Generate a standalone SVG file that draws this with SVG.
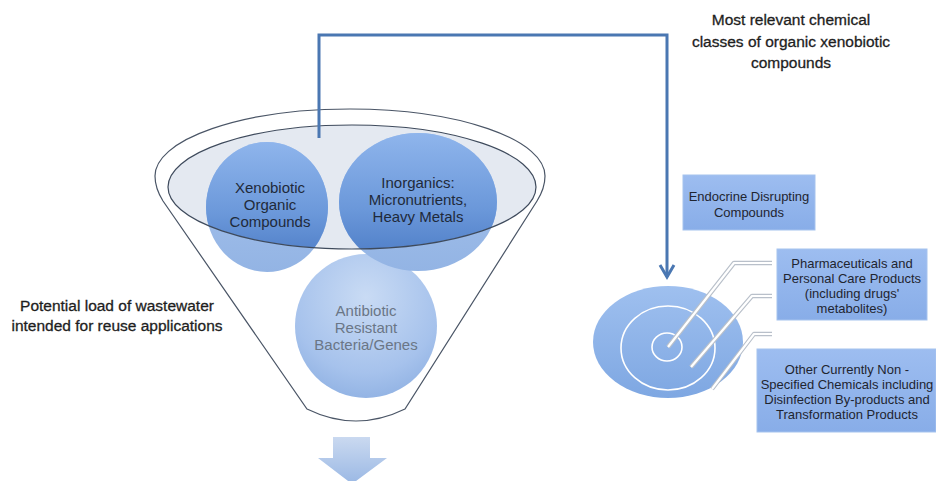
<svg xmlns="http://www.w3.org/2000/svg" width="936" height="481" viewBox="0 0 936 481">
<defs>
<style>
.t{font-family:"Liberation Sans",Arial,sans-serif;text-anchor:middle;}
.big{font-size:15.5px;fill:#1e1e1e;stroke:#1e1e1e;stroke-width:0.3;}
.circ{font-size:15px;fill:#1f2a3a;}
.grey{font-size:15px;fill:#6a7686;}
.box{font-size:13px;fill:#1f2530;}
.bx{fill:url(#boxG);stroke:#a6c3ee;stroke-width:1;}
.lead1{fill:none;stroke:#b9c0ca;stroke-width:4.5;stroke-linejoin:round;}
.lead2{fill:none;stroke:#ffffff;stroke-width:2.2;stroke-linejoin:round;}
.ring{fill:none;stroke:#ffffff;stroke-width:1.6;}
.conn{fill:none;stroke:#4a77b2;stroke-width:3;}
</style>
<linearGradient id="darkG" x1="0" y1="0" x2="0" y2="1">
<stop offset="0" stop-color="#8fb5ec"/>
<stop offset="0.55" stop-color="#6b98da"/>
<stop offset="1" stop-color="#4777c2"/>
</linearGradient>
<linearGradient id="lightG" x1="0" y1="0" x2="0" y2="1">
<stop offset="0" stop-color="#a9c5ee"/>
<stop offset="1" stop-color="#93b4e4"/>
</linearGradient>
<radialGradient id="abG" cx="0.5" cy="0.3" r="0.75">
<stop offset="0" stop-color="#c9dbf4"/>
<stop offset="0.7" stop-color="#a6c2ec"/>
<stop offset="1" stop-color="#8eb0e2"/>
</radialGradient>
<linearGradient id="boxG" x1="0" y1="0" x2="0" y2="1">
<stop offset="0" stop-color="#9dbdf0"/>
<stop offset="1" stop-color="#88ade8"/>
</linearGradient>
<linearGradient id="tgtG" x1="0" y1="0" x2="0" y2="1">
<stop offset="0" stop-color="#9fc0ef"/>
<stop offset="1" stop-color="#7ea7e2"/>
</linearGradient>
<linearGradient id="arrG" x1="0" y1="0" x2="0" y2="1">
<stop offset="0" stop-color="#cad9f0"/>
<stop offset="1" stop-color="#9ab8e4"/>
</linearGradient>
<clipPath id="innerClip">
<ellipse cx="352" cy="187" rx="184" ry="62"/>
</clipPath>
<marker id="chev" markerUnits="userSpaceOnUse" markerWidth="30" markerHeight="30" viewBox="-15 -15 30 30" refX="0" refY="0" orient="auto">
<path d="M-12,-7 L0,0 L-12,7" fill="none" stroke="#4a77b2" stroke-width="3"/>
</marker>
</defs>

<g id="funnel">
<path d="M155,176 A195,67 0 0 1 545,176 C545,186 542,193 537,201 L405,409 Q356,433 307,409 L163,201 C158,193 155,186 155,176 Z" fill="#ffffff" stroke="#4a5566" stroke-width="1.2"/>
<ellipse cx="352" cy="187" rx="184" ry="62" fill="#e4e9f1"/>
</g>

<g id="antibiotic">
<ellipse cx="366" cy="326" rx="71" ry="72" fill="url(#abG)"/>
<text class="t grey" x="366" y="316">Antibiotic</text>
<text class="t grey" x="366" y="333">Resistant</text>
<text class="t grey" x="366" y="350">Bacteria/Genes</text>
</g>

<g id="xenobiotic">
<ellipse cx="267" cy="207" rx="61" ry="65" fill="url(#lightG)"/>
<ellipse cx="267" cy="207" rx="61" ry="65" fill="url(#darkG)" clip-path="url(#innerClip)"/>
</g>

<g id="inorganics">
<ellipse cx="418" cy="202" rx="79" ry="69" fill="url(#lightG)"/>
<ellipse cx="418" cy="202" rx="79" ry="69" fill="url(#darkG)" clip-path="url(#innerClip)"/>
</g>

<ellipse cx="352" cy="187" rx="184" ry="62" fill="none" stroke="#3e4a5c" stroke-width="1.2"/>

<g id="labels-funnel">
<text class="t circ" x="270" y="193">Xenobiotic</text>
<text class="t circ" x="270" y="210">Organic</text>
<text class="t circ" x="270" y="227">Compounds</text>
<text class="t circ" x="418" y="188">Inorganics:</text>
<text class="t circ" x="418" y="205">Micronutrients,</text>
<text class="t circ" x="418" y="222">Heavy Metals</text>
</g>

<g id="output-arrow">
<path d="M333,437 H370 V458 H387 L352,484 L318,458 H333 Z" fill="url(#arrG)"/>
</g>

<g id="potential-label">
<text class="t big" x="117" y="311">Potential load of wastewater</text>
<text class="t big" x="117" y="331">intended for reuse applications</text>
</g>

<g id="title-label">
<text class="t big" x="791" y="25">Most relevant chemical</text>
<text class="t big" x="791" y="47">classes of organic xenobiotic</text>
<text class="t big" x="791" y="68">compounds</text>
</g>

<g id="target">
<ellipse cx="668" cy="342" rx="75" ry="56" fill="url(#tgtG)"/>
<ellipse class="ring" cx="668" cy="348" rx="47" ry="42"/>
<ellipse class="ring" cx="667" cy="347" rx="15" ry="14"/>
</g>

<g id="leaders">
<path class="lead1" d="M668,347 L734,263 H772"/>
<path class="lead2" d="M668,347 L734,263 H772"/>
<path class="lead1" d="M691,367 L752,296 H772"/>
<path class="lead2" d="M691,367 L752,296 H772"/>
<path class="lead1" d="M712,389 L754,334 H772"/>
<path class="lead2" d="M712,389 L754,334 H772"/>
</g>

<g id="endocrine">
<rect class="bx" x="683" y="175" width="132" height="55"/>
<text class="t box" x="749" y="201">Endocrine Disrupting</text>
<text class="t box" x="749" y="217">Compounds</text>
</g>

<g id="pharma">
<rect class="bx" x="777" y="249" width="150" height="71"/>
<text class="t box" x="852" y="268">Pharmaceuticals and</text>
<text class="t box" x="852" y="283">Personal Care Products</text>
<text class="t box" x="852" y="298">(including drugs'</text>
<text class="t box" x="852" y="313">metabolites)</text>
</g>

<g id="other">
<rect class="bx" x="757" y="349" width="179" height="83"/>
<text class="t box" x="847" y="374">Other  Currently Non -</text>
<text class="t box" x="847" y="389">Specified Chemicals including</text>
<text class="t box" x="847" y="404">Disinfection By-products and</text>
<text class="t box" x="847" y="419">Transformation Products</text>
</g>

<g id="connectors">
<path class="conn" d="M319,138 V35 H667 V277" marker-end="url(#chev)"/>
</g>
</svg>
